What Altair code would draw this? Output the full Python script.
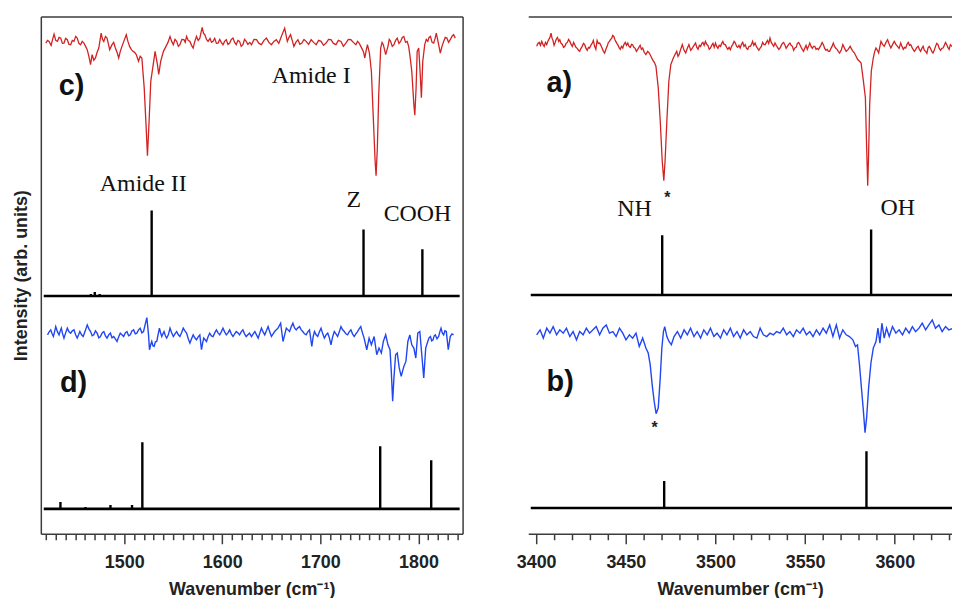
import altair as alt
import pandas as pd

# ---------------- data ----------------
# left panel, trace c) (red, experiment)
c_wn = [1420.1, 1421.8, 1423.4, 1425.5, 1427.0, 1428.5, 1430.2, 1431.9, 1433.6, 1435.3, 1437.0, 1438.6, 1440.3, 1442.0,
        1443.7, 1445.4, 1447.1, 1448.8, 1450.5, 1452.1, 1453.8, 1455.5, 1457.2, 1458.9, 1460.6, 1462.3, 1464.0, 1465.7,
        1467.3, 1469.0, 1470.7, 1472.4, 1474.1, 1475.5, 1476.5, 1477.9, 1479.2, 1480.9, 1482.5, 1484.0, 1485.2, 1487.6,
        1489.3, 1491.0, 1492.7, 1494.4, 1496.0, 1497.7, 1500.0, 1502.1, 1503.8, 1505.5, 1507.2, 1508.9, 1510.6, 1512.3,
        1514.6, 1516.3, 1518.0, 1520.4, 1522.4, 1523.7, 1525.4, 1527.1, 1529.1, 1531.5, 1533.9, 1535.2, 1537.2, 1540.0,
        1542.6, 1544.6, 1546.7, 1548.4, 1550.1, 1551.8, 1553.5, 1555.2, 1556.8, 1558.8, 1560.9, 1562.2, 1563.6, 1565.3,
        1567.0, 1568.7, 1570.3, 1572.0, 1573.7, 1575.4, 1577.1, 1579.5, 1580.9, 1582.2, 1583.9, 1585.5, 1587.5, 1589.0,
        1590.6, 1592.3, 1594.0, 1595.7, 1597.4, 1599.0, 1600.7, 1602.4, 1604.1, 1605.8, 1607.5, 1609.2, 1610.9, 1612.6,
        1614.2, 1615.9, 1617.6, 1619.3, 1621.0, 1622.7, 1624.4, 1626.1, 1628.0, 1629.8, 1632.3, 1634.9, 1637.4, 1639.9,
        1642.5, 1645.0, 1647.5, 1650.1, 1652.6, 1655.1, 1657.6, 1660.2, 1663.6, 1666.3, 1668.0, 1669.6, 1671.3, 1673.0,
        1675.0, 1677.1, 1679.1, 1681.1, 1683.3, 1685.5, 1688.0, 1690.6, 1693.1, 1695.7, 1698.2, 1700.7, 1703.2, 1705.8,
        1708.3, 1710.8, 1713.3, 1715.9, 1718.4, 1721.0, 1723.5, 1726.0, 1728.5, 1731.1, 1733.6, 1736.2, 1737.9, 1739.5,
        1741.2, 1742.9, 1744.1, 1745.3, 1746.7, 1748.0, 1750.0, 1752.0, 1754.1, 1755.8, 1756.8, 1758.1, 1759.5, 1761.5,
        1762.9, 1764.2, 1766.6, 1768.9, 1770.2, 1771.6, 1773.3, 1775.0, 1776.7, 1778.4, 1780.1, 1781.8, 1783.5, 1785.1,
        1786.8, 1788.5, 1790.0, 1791.2, 1793.2, 1795.3, 1796.3, 1797.6, 1798.7, 1800.3, 1802.0, 1803.0, 1804.4, 1806.4,
        1808.0, 1809.5, 1810.8, 1812.2, 1813.9, 1815.5, 1817.0, 1818.2, 1819.5, 1820.6, 1822.3, 1824.0, 1825.7, 1827.3,
        1829.0, 1830.7, 1832.4, 1834.1, 1835.8, 1837.5]
c_int = [493.3, 496, 495, 491, 497, 502.3, 496, 495, 499, 498.3, 493, 493.3, 498, 496.7,
         492, 491.7, 496, 495, 500, 498.3, 493, 491.7, 495, 493.3, 490, 486.7, 480, 471.7,
         481.7, 476, 478.3, 484, 488.3, 497, 503.3, 497, 495, 500, 498.3, 492, 486.7, 491.7,
         494, 488.3, 484, 478.3, 485, 490, 496, 501.7, 495, 490, 487, 485, 484, 481.7,
         475, 480, 478.3, 448.3, 408.3, 380, 415, 455, 468.3, 485, 471.7, 461.7, 475, 485,
         490, 494, 500, 495, 491.7, 497, 495, 490, 491.7, 497, 496.7, 494, 500, 496,
         495, 491, 488.3, 495, 500, 496, 498.3, 509, 503, 501.7, 497, 495, 498, 494,
         495, 498, 493, 493.3, 497, 494, 491.7, 495, 496.7, 492, 493.3, 497, 498.3, 494,
         491.7, 496, 495, 490, 491.7, 497, 495, 492, 494, 491.7, 497, 496.7, 493, 491.7,
         496, 498.3, 494, 491.7, 495, 496.7, 493, 500, 508.3, 495, 499, 501.7, 496, 490,
         494, 496.7, 492, 493.3, 497, 495, 492, 496.7, 494, 491.7, 496, 495, 491, 493.3,
         497, 496.7, 493, 491.7, 496, 495, 490, 493.3, 497, 496.7, 494, 491.7, 495, 493.3,
         490, 486.7, 484, 478.3, 486, 491.7, 483.3, 465, 415, 375, 360, 388.3, 441.7, 488.3,
         494, 491.7, 481.7, 490, 497, 495, 490, 491.7, 496, 498.3, 493, 495, 499, 500,
         494, 495, 490, 481.7, 465, 431.7, 420.7, 448.3, 485, 488.3, 458.3, 438.3, 475, 491.7,
         497, 495, 499, 500, 494, 493.3, 498, 503.3, 497, 491.7, 483.3, 490, 495, 499,
         498.3, 494, 496.7, 500, 501.7, 498.3]

# left panel, trace d) (blue, experiment)
d_wn = [1421.8, 1423.5, 1425.1, 1426.5, 1427.8, 1429.0, 1430.2, 1432.0, 1433.6, 1434.8, 1435.9, 1437.2, 1438.6, 1440.3,
        1442.0, 1443.7, 1445.4, 1447.1, 1448.8, 1450.5, 1452.1, 1453.5, 1454.8, 1456.5, 1458.2, 1460.3, 1462.3, 1464.0,
        1465.7, 1467.4, 1469.0, 1470.7, 1472.4, 1474.1, 1475.8, 1477.5, 1479.2, 1480.9, 1482.5, 1484.2, 1485.9, 1487.6,
        1489.3, 1491.0, 1492.7, 1494.4, 1496.0, 1497.7, 1499.4, 1501.1, 1502.8, 1504.5, 1506.2, 1507.9, 1509.6, 1511.3,
        1512.9, 1514.6, 1516.3, 1518.0, 1519.7, 1521.7, 1523.1, 1524.8, 1525.8, 1527.0, 1528.1, 1529.3, 1530.5, 1531.8,
        1533.2, 1534.5, 1535.9, 1537.1, 1538.3, 1539.5, 1540.6, 1542.0, 1543.3, 1545.0, 1546.7, 1548.4, 1550.1, 1551.8,
        1553.5, 1555.2, 1556.8, 1558.5, 1560.2, 1561.9, 1563.6, 1565.3, 1567.0, 1568.7, 1570.3, 1572.0, 1573.7, 1575.4,
        1577.1, 1578.8, 1580.0, 1581.1, 1582.5, 1583.9, 1585.5, 1587.2, 1588.9, 1590.6, 1592.3, 1594.0, 1595.7, 1597.4,
        1599.0, 1600.7, 1602.4, 1604.1, 1605.8, 1607.5, 1609.2, 1610.9, 1612.6, 1614.2, 1615.9, 1617.6, 1619.3, 1621.0,
        1622.7, 1624.4, 1626.1, 1627.8, 1629.8, 1631.5, 1633.2, 1634.9, 1636.6, 1638.3, 1639.9, 1641.6, 1643.3, 1645.0,
        1646.7, 1648.4, 1650.1, 1651.8, 1653.4, 1655.1, 1656.8, 1659.5, 1661.9, 1663.6, 1665.3, 1667.0, 1668.6, 1670.3,
        1672.0, 1673.7, 1675.4, 1677.1, 1678.8, 1680.5, 1682.1, 1683.8, 1685.5, 1687.2, 1688.9, 1691.3, 1692.6, 1694.0,
        1695.7, 1697.3, 1699.0, 1700.7, 1702.4, 1704.1, 1705.8, 1707.5, 1709.2, 1710.8, 1712.5, 1714.2, 1715.9, 1717.6,
        1719.3, 1721.0, 1722.7, 1724.4, 1726.0, 1727.7, 1729.4, 1731.1, 1732.8, 1734.5, 1736.2, 1737.9, 1739.5, 1741.2,
        1742.9, 1744.6, 1747.3, 1749.7, 1752.0, 1754.8, 1757.5, 1759.8, 1762.2, 1764.2, 1766.6, 1768.9, 1771.0, 1772.3,
        1773.7, 1775.0, 1776.7, 1778.4, 1780.4, 1782.4, 1785.1, 1787.2, 1789.2, 1791.2, 1793.2, 1795.3, 1797.3, 1799.3,
        1801.4, 1803.4, 1805.4, 1807.4, 1809.5, 1810.8, 1812.2, 1813.5, 1814.9, 1816.0, 1817.2, 1818.9, 1820.6, 1821.8,
        1823.0, 1824.3, 1825.7, 1827.0, 1828.4, 1830.4, 1832.4, 1834.1, 1835.8]
d_int = [200, 203, 205, 201, 198.3, 203, 208.3, 203, 200, 204, 206.7, 201, 196.7, 202,
         206.7, 203, 201.7, 204, 205, 200, 196.7, 200, 203.3, 200, 198.3, 204, 210, 206,
         203.3, 199, 200, 204, 201.7, 197, 198.3, 202, 203.3, 199, 196.7, 200, 201.7, 197,
         198.3, 196, 193.3, 198, 201.7, 200, 198.3, 202, 203.3, 199, 200, 204, 205, 201,
         201.7, 205, 206.7, 202, 203.3, 211.7, 217.3, 200, 185, 190, 193.3, 189, 188.3, 193,
         193.3, 200, 206.7, 202, 198.3, 201, 203.3, 199, 196.7, 200, 206.7, 202, 198.3, 201,
         203.3, 200, 198.3, 202, 206.7, 204, 201.7, 196, 191.7, 196, 200, 197, 195, 198,
         200, 185, 192, 196.7, 195, 193.3, 198, 201.7, 199, 198.3, 202, 205, 202, 200,
         203, 206.7, 203, 200, 202, 205, 201, 198.3, 201, 203.3, 202, 200, 203, 205,
         201, 198.3, 200, 201.7, 198.3, 201, 203.3, 200, 196.7, 202, 206.7, 203, 200, 204,
         208.3, 203, 198.3, 201, 203.3, 205, 206.7, 211.7, 193.3, 200, 206.7, 205, 203.3, 208,
         211.7, 207, 205, 207, 208.3, 205, 203.3, 201, 200, 203, 205, 188.3, 198, 203.3,
         200, 198.3, 203, 206.7, 201, 196.7, 200, 201.7, 197, 190, 198, 203.3, 201, 198.3,
         203, 208.3, 205, 203.3, 201, 200, 203, 205, 201, 198.3, 201, 203.3, 206, 208.3,
         202, 196.7, 185, 196.7, 190, 198.3, 180, 186.7, 181.7, 193.3, 200, 190, 185, 163.3,
         133.3, 156.7, 180, 181.7, 166.7, 158.3, 168.3, 173.3, 193.3, 200, 190, 186.7, 176.7, 201.7,
         203.3, 180, 156.7, 186.7, 193.3, 197, 198.3, 194, 195, 199, 200, 196, 198.3, 203,
         206.7, 202, 200, 204, 203.3, 185, 198.3, 201, 200]

# right panel, trace a) (red, experiment)
a_wn = [3400.3, 3401.0, 3401.7, 3402.4, 3403.1, 3403.8, 3404.5, 3405.2, 3405.9, 3406.5, 3407.1, 3407.7, 3408.3, 3408.9,
        3409.4, 3410.0, 3410.5, 3411.2, 3411.9, 3412.6, 3413.2, 3413.9, 3414.6, 3415.3, 3416.0, 3416.7, 3417.4, 3418.1,
        3418.8, 3419.5, 3420.2, 3420.9, 3421.5, 3422.2, 3422.9, 3423.6, 3424.3, 3425.0, 3425.7, 3426.4, 3427.1, 3427.8,
        3428.5, 3429.2, 3429.8, 3430.5, 3431.2, 3431.9, 3432.6, 3433.3, 3434.0, 3434.7, 3435.4, 3436.1, 3436.8, 3437.5,
        3438.2, 3438.9, 3439.6, 3440.3, 3440.9, 3441.5, 3442.1, 3442.7, 3443.3, 3443.9, 3444.4, 3445.0, 3445.5, 3446.2,
        3446.9, 3447.6, 3448.3, 3449.0, 3449.7, 3450.4, 3451.1, 3451.8, 3452.5, 3453.2, 3453.8, 3454.5, 3455.2, 3455.9,
        3456.6, 3457.3, 3458.0, 3458.7, 3459.4, 3460.3, 3461.2, 3462.2, 3463.1, 3464.0, 3464.9, 3465.9, 3466.8, 3468.1,
        3469.2, 3470.3, 3471.2, 3471.9, 3472.9, 3474.0, 3475.1, 3476.5, 3477.5, 3478.4, 3479.1, 3479.7, 3480.6, 3481.5,
        3482.5, 3483.4, 3484.3, 3485.2, 3486.2, 3487.1, 3488.0, 3488.9, 3489.6, 3490.3, 3491.0, 3491.7, 3492.4, 3493.0,
        3493.7, 3494.4, 3495.1, 3495.8, 3496.5, 3497.2, 3497.9, 3498.6, 3499.3, 3500.0, 3500.7, 3501.4, 3502.1, 3502.8,
        3503.5, 3504.1, 3504.8, 3505.5, 3506.2, 3506.9, 3507.6, 3508.3, 3509.0, 3509.7, 3510.4, 3511.1, 3511.8, 3512.4,
        3513.1, 3513.8, 3514.5, 3515.2, 3515.9, 3516.6, 3517.3, 3518.0, 3518.7, 3519.4, 3520.1, 3520.7, 3521.4, 3522.1,
        3522.8, 3523.5, 3524.2, 3524.9, 3525.6, 3526.3, 3527.0, 3527.7, 3528.4, 3529.0, 3529.7, 3530.4, 3531.1, 3531.8,
        3532.5, 3533.2, 3533.9, 3534.6, 3535.3, 3536.0, 3536.7, 3537.3, 3538.0, 3538.7, 3539.4, 3540.1, 3540.8, 3541.5,
        3542.2, 3542.9, 3543.6, 3544.3, 3545.0, 3545.7, 3546.4, 3547.1, 3547.8, 3548.4, 3549.1, 3549.8, 3550.5, 3551.2,
        3551.9, 3552.6, 3553.3, 3554.0, 3554.7, 3555.4, 3556.1, 3556.7, 3557.4, 3558.1, 3558.8, 3559.5, 3560.2, 3560.9,
        3561.6, 3562.3, 3563.0, 3563.7, 3564.4, 3565.0, 3565.7, 3566.4, 3567.1, 3567.8, 3568.5, 3569.2, 3570.1, 3571.0,
        3572.0, 3572.9, 3574.0, 3575.1, 3576.3, 3577.5, 3578.4, 3579.3, 3580.3, 3581.2, 3582.5, 3583.6, 3584.3, 3584.9,
        3585.4, 3586.0, 3586.9, 3588.0, 3588.8, 3589.5, 3590.3, 3591.0, 3591.7, 3592.3, 3593.2, 3594.1, 3595.1, 3596.0,
        3596.9, 3597.8, 3598.8, 3599.7, 3600.6, 3601.5, 3602.4, 3603.3, 3604.0, 3604.7, 3605.4, 3606.1, 3606.8, 3607.5,
        3608.2, 3608.9, 3609.6, 3610.2, 3610.9, 3611.6, 3612.3, 3613.0, 3613.7, 3614.4, 3615.1, 3615.8, 3616.5, 3617.2,
        3617.9, 3618.5, 3619.2, 3619.9, 3620.6, 3621.3, 3622.0, 3622.7, 3623.4, 3624.1, 3624.8, 3625.5, 3626.2, 3626.9,
        3627.6, 3628.3, 3629.0, 3629.6, 3630.3, 3631.0, 3631.9, 3632.8]
a_int = [490, 493, 494, 491, 495, 492, 490, 494, 491.7, 495, 497, 499, 503.3, 498,
         496, 491, 493.3, 497, 499, 495, 496.7, 493, 492, 489, 490, 493, 494, 497,
         495, 492, 490, 494, 491.7, 489, 488, 486, 485, 488, 490, 493, 491.7, 488,
         486, 489, 488.3, 491, 493, 496, 490, 487, 496, 493, 493.3, 491, 488, 485,
         483.3, 487, 490, 494, 495, 497, 498, 501, 500, 497, 495, 493, 491.7, 489,
         487, 490, 488.3, 492, 494, 491, 493.3, 490, 489, 492, 491.7, 489, 488, 485,
         486.7, 489, 491, 487, 488.3, 484, 481.7, 485, 483.3, 480, 476.7, 474, 470, 448.3,
         415, 375, 355, 375, 415, 455, 471.7, 478.3, 482, 485, 480, 481.7, 487, 491.7,
         486, 483.3, 488, 491.7, 486, 488.3, 491, 493.3, 489, 487, 491, 490, 493, 494,
         491, 495, 492, 491, 487, 488.3, 491, 493, 489, 493.3, 490, 488, 491, 490,
         493, 495, 492, 491.7, 489, 487, 489, 486.7, 490, 492, 495, 493.3, 490, 489,
         491, 488.3, 492, 494, 490, 491.7, 488, 487, 490, 490, 492, 495, 491, 493.3,
         490, 488, 486, 488.3, 490, 494, 492, 491.7, 494, 496, 493, 498.3, 494, 492,
         490, 493.3, 491, 489, 487, 488.3, 491, 493, 494, 491.7, 488, 490, 492, 493.3,
         491, 490, 486, 488.3, 489, 493, 494, 491.7, 489, 487, 485, 488, 491, 487,
         490, 493.3, 490, 488, 490, 490, 487, 488, 486.7, 489, 491, 494, 491.7, 488,
         486, 487, 485, 485, 488, 490, 493.3, 490, 488, 487, 485, 483.3, 486, 491.7,
         488, 485, 487, 490, 486, 483.3, 480, 476.7, 475, 473.3, 455, 438.3, 388.3, 350,
         381.7, 431.7, 465, 478.3, 485, 488.3, 486, 483.3, 490, 495, 492, 490, 494, 496.7,
         492, 488.3, 492, 495, 492, 490, 488, 493.3, 490, 487, 489, 488.3, 492, 494,
         491, 491.7, 489, 487, 485, 486.7, 489, 490, 487, 485, 488, 490, 486, 485,
         483, 488.3, 490, 488, 485, 483.3, 486, 490, 493, 491.7, 488, 486, 488, 488.3,
         491, 494, 491.7, 489, 487, 491.7, 490, 490]

# right panel, trace b) (blue, experiment)
b_wn = [3400.3, 3402.2, 3404.0, 3405.9, 3407.7, 3409.5, 3411.4, 3413.2, 3415.1, 3416.9, 3418.8, 3420.6, 3422.5, 3424.3,
        3426.2, 3428.0, 3429.8, 3431.7, 3433.5, 3435.4, 3437.2, 3439.1, 3440.9, 3442.8, 3444.6, 3446.5, 3448.3, 3450.1,
        3452.0, 3453.8, 3455.7, 3457.5, 3459.4, 3461.2, 3462.5, 3463.6, 3464.7, 3465.8, 3466.9, 3468.1, 3469.2, 3470.1,
        3471.0, 3471.7, 3472.9, 3474.1, 3475.4, 3476.9, 3478.8, 3480.6, 3482.5, 3484.3, 3486.1, 3488.0, 3489.8, 3491.7,
        3493.5, 3495.4, 3497.2, 3499.1, 3500.9, 3502.8, 3504.6, 3506.4, 3508.3, 3510.1, 3512.0, 3513.8, 3515.7, 3517.5,
        3519.4, 3521.2, 3523.1, 3524.9, 3526.7, 3528.6, 3530.4, 3532.3, 3534.1, 3536.0, 3537.8, 3539.7, 3541.5, 3543.4,
        3545.2, 3547.1, 3548.9, 3550.7, 3552.6, 3554.4, 3556.3, 3558.1, 3560.0, 3561.8, 3563.7, 3565.5, 3567.4, 3569.2,
        3571.0, 3572.9, 3574.7, 3576.6, 3578.1, 3579.2, 3580.3, 3581.4, 3582.5, 3583.4, 3584.3, 3585.4, 3586.7, 3588.0,
        3589.5, 3590.6, 3591.7, 3592.8, 3594.1, 3595.4, 3596.9, 3598.7, 3600.6, 3602.4, 3604.3, 3606.1, 3608.0, 3609.8,
        3611.6, 3613.5, 3615.3, 3617.2, 3619.0, 3620.9, 3622.7, 3624.6, 3626.4, 3628.3, 3630.1, 3632.8]
b_int = [200, 205, 196.7, 206.7, 201.7, 208.3, 200, 205, 201.7, 206.7, 198.3, 203.3, 195, 203.3,
         200, 206.7, 201.7, 205, 208.3, 200, 206.7, 210, 201.7, 203.3, 198.3, 206.7, 201.7, 195,
         200, 196.7, 201.7, 188.3, 196.7, 186.7, 181.7, 170, 150, 133.3, 120.7, 126.7, 156.7, 186.7,
         203.3, 208.3, 198.3, 193.3, 190, 198.3, 203.3, 196.7, 205, 200, 206.7, 198.3, 203.3, 196.7,
         205, 200, 206.7, 198.3, 201.7, 196.7, 205, 200, 206.7, 198.3, 203.3, 196.7, 205, 200,
         203.3, 198.3, 196.7, 206.7, 200, 198.3, 201.7, 200, 203.3, 201.7, 206.7, 200, 203.3, 198.3,
         205, 201.7, 206.7, 200, 203.3, 198.3, 205, 200, 206.7, 201.7, 210, 198.3, 210, 196.7,
         205, 200, 198.3, 195, 188.3, 190, 170, 146.7, 123.3, 101.7, 116.7, 146.7, 171.7, 186.7,
         193.3, 206.7, 191.7, 211.7, 196.7, 206.7, 198.3, 208.3, 201.7, 205, 200, 206.7, 201.7, 208.3,
         203.3, 206.7, 211.7, 205, 210, 215, 206.7, 210, 203.3, 208.3, 205, 206.7]

# calculated stick spectra (position, height above its baseline)
c_stick_wn = [1466, 1470, 1475, 1508, 1528, 1744, 1804]
c_stick_h = [2, 4, 2, 1, 86, 67, 47]
c_base = 239
d_stick_wn = [1435, 1460.5, 1486, 1508, 1518.5, 1761, 1813]
d_stick_h = [7, 2, 4, 4, 67, 63, 49]
d_base = 25
a_stick_wn = [3470.3, 3586.8]
a_stick_h = [60, 66]
a_base = 240
b_stick_wn = [3471.4, 3584.2]
b_stick_h = [27, 57]
b_base = 26

# annotations
left_panel_labels = ["c)", "d)"]
left_panel_wn = [1446.4, 1448.4]
left_panel_y = [450, 152]
left_peak_labels = ["Amide I", "Amide II", "Z", "COOH"]
left_peak_wn = [1690.6, 1519.4, 1734.0, 1799.0]
left_peak_y = [460, 352, 336, 321]
right_panel_labels = ["a)", "b)"]
right_panel_wn = [3412.9, 3413.4]
right_panel_y = [453, 153]
right_peak_labels = ["NH", "OH"]
right_peak_wn = [3454.9, 3601.7]
right_peak_y = [326, 327]
star_wn = [3473.2, 3466.0]
star_y = [343, 111]

left_ticks = list(range(1420, 1850, 10))
right_ticks = list(range(3400, 3640, 10))

# ---------------- styling ----------------
RED = "#d22222"
BLUE = "#2146f2"
FRAME = "#3c3c3c"
SANS = "Liberation Sans"
SERIF = "Liberation Serif"

Y_DOMAIN = [0, 520]
L_DOMAIN = [1415, 1845]
R_DOMAIN = [3395.6, 3631.9]


def edge_axis(orient):
    return alt.Axis(orient=orient, labels=False, ticks=False, domain=True, grid=False, title=None,
                    domainColor=FRAME, domainWidth=1.5)


def xaxis(ticks, major):
    return alt.Axis(
        orient="bottom", values=ticks, format="d",
        labelExpr=f"datum.value % {major} === 0 ? datum.label : ''",
        tickSize={"condition": {"test": f"datum.value % {major} === 0", "value": 10}, "value": 6},
        tickWidth=1.5, tickColor=FRAME, labelOverlap=False,
        labelFont=SANS, labelFontSize=18, labelFontWeight="bold", labelColor="#222",
        labelPadding=10, grid=False, domain=True, domainColor=FRAME, domainWidth=1.5,
        title="Wavenumber (cm⁻¹)", titleFont=SANS, titleFontSize=18, titleFontWeight="bold",
        titleColor="#222", titlePadding=9,
    )


def panel(domain, ticks, major, top_wn, top_y, bot_wn, bot_y, sticks, base_span,
          panel_lbl, peak_lbl, stars, is_left):
    xs = alt.Scale(domain=domain, nice=False, zero=False)
    ys = alt.Scale(domain=Y_DOMAIN, nice=False, zero=False)
    if is_left:
        yaxis = alt.Axis(orient="left", title="Intensity (arb. units)", labels=False, ticks=False, domain=True,
                         grid=False, domainColor=FRAME, domainWidth=1.5,
                         titleFont=SANS, titleFontSize=18, titleFontWeight="bold", titleColor="#222",
                         titlePadding=10)
    else:
        yaxis = edge_axis("left")

    top_df = pd.DataFrame({"wn": top_wn, "y": top_y})
    bot_df = pd.DataFrame({"wn": bot_wn, "y": bot_y})
    layers = []
    layers.append(alt.Chart(top_df).mark_line(color=RED, strokeWidth=1.3, clip=True).encode(
        x=alt.X("wn:Q", scale=xs, axis=xaxis(ticks, major)),
        y=alt.Y("y:Q", scale=ys, axis=yaxis)))
    layers.append(alt.Chart(bot_df).mark_line(color=BLUE, strokeWidth=1.4, clip=True).encode(
        x=alt.X("wn:Q", scale=xs, axis=None), y=alt.Y("y:Q", scale=ys, axis=None)))

    st_wn, st_h, bases = sticks
    rows_wn, rows_b, rows_t = [], [], []
    for wn_list, h_list, b in zip(st_wn, st_h, bases):
        for w, h in zip(wn_list, h_list):
            rows_wn.append(w)
            rows_b.append(b)
            rows_t.append(b + h)
    st_df = pd.DataFrame({"wn": rows_wn, "base": rows_b, "top": rows_t})
    bl_df = pd.DataFrame({"x0": [base_span[0]] * len(bases), "x1": [base_span[1]] * len(bases), "base": bases})

    layers.append(alt.Chart(bl_df).mark_rule(color="black", strokeWidth=2.6, clip=True).encode(
        x=alt.X("x0:Q", scale=xs, axis=edge_axis("top")), x2="x1:Q", y=alt.Y("base:Q", scale=ys, axis=None)))
    layers.append(alt.Chart(st_df).mark_rule(color="black", strokeWidth=2.4, clip=True).encode(
        x=alt.X("wn:Q", scale=xs, axis=None),
        y=alt.Y("base:Q", scale=ys, axis=edge_axis("right") if is_left else None), y2="top:Q"))

    pl_df = pd.DataFrame({"t": panel_lbl[0], "wn": panel_lbl[1], "y": panel_lbl[2]})
    layers.append(alt.Chart(pl_df).mark_text(font=SANS, fontSize=29, fontWeight="bold", color="#111",
                                             align="center", baseline="middle").encode(
        x=alt.X("wn:Q", scale=xs, axis=None), y=alt.Y("y:Q", scale=ys, axis=None), text="t:N"))
    pk_df = pd.DataFrame({"t": peak_lbl[0], "wn": peak_lbl[1], "y": peak_lbl[2]})
    layers.append(alt.Chart(pk_df).mark_text(font=SERIF, fontSize=24, color="#111",
                                             align="center", baseline="middle").encode(
        x=alt.X("wn:Q", scale=xs, axis=None), y=alt.Y("y:Q", scale=ys, axis=None), text="t:N"))
    if stars is not None:
        s_df = pd.DataFrame({"t": ["*"] * len(stars[0]), "wn": stars[0], "y": stars[1]})
        layers.append(alt.Chart(s_df).mark_text(font=SANS, fontSize=16, fontWeight="bold", color="#222",
                                                align="center", baseline="middle", dy=5).encode(
            x=alt.X("wn:Q", scale=xs, axis=None), y=alt.Y("y:Q", scale=ys, axis=None), text="t:N"))

    ch = alt.layer(*layers)
    if is_left:
        ch = ch.resolve_axis(x="independent", y="independent")
    else:
        ch = ch.resolve_axis(x="independent")
    return ch


left = panel(L_DOMAIN, left_ticks, 100, c_wn, c_int, d_wn, d_int,
             ([c_stick_wn, d_stick_wn], [c_stick_h, d_stick_h], [c_base, d_base]), [1418, 1842],
             (left_panel_labels, left_panel_wn, left_panel_y),
             (left_peak_labels, left_peak_wn, left_peak_y), None, True).properties(width=424, height=520)

right = panel(R_DOMAIN, right_ticks, 50, a_wn, a_int, b_wn, b_int,
              ([a_stick_wn, b_stick_wn], [a_stick_h, b_stick_h], [a_base, b_base]), [3397, 3632],
              (right_panel_labels, right_panel_wn, right_panel_y),
              (right_peak_labels, right_peak_wn, right_peak_y), (star_wn, star_y), False).properties(width=426, height=520)

chart = alt.hconcat(left, right, spacing=66, bounds="flush").properties(
    padding={"left": 5, "top": 7, "right": 0, "bottom": 0}
).configure(background="white").configure_view(strokeOpacity=0)

chart.save("out.html", embed_options={"renderer": "svg", "actions": False})
